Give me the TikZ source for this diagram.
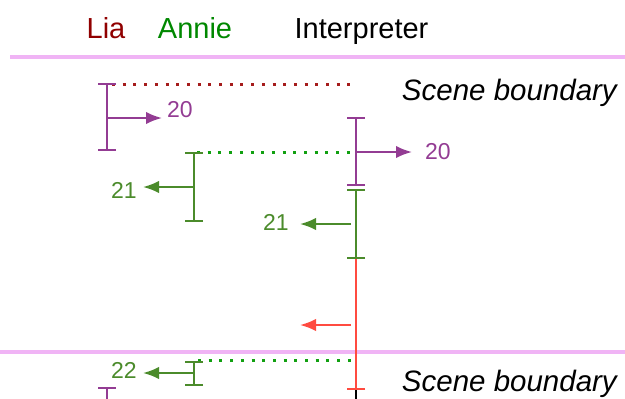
\documentclass[tikz,border=0pt]{standalone}
\usepackage{fontspec}
\setmainfont{Liberation Sans}
\usetikzlibrary{arrows.meta}
\definecolor{purp}{HTML}{933C93}
\definecolor{annieline}{HTML}{4B8B2B}
\definecolor{syncgreen}{HTML}{11A011}
\definecolor{liared}{HTML}{900000}
\definecolor{anniegreen}{HTML}{008800}
\definecolor{syncred}{HTML}{A51C1C}
\definecolor{interpred}{HTML}{FF4B40}
\definecolor{scenepink}{HTML}{F0B4F5}
\begin{document}
\begin{tikzpicture}[x=1pt,y=-1pt,
  lifeline/.style={line width=2.2pt},
  barboth/.style={{Bar[width=18pt,line width=2.2pt]}-{Bar[width=18pt,line width=2.2pt]}},
  barstart/.style={{Bar[width=18pt,line width=2.2pt]}-},
  barend/.style={-{Bar[width=18pt,line width=2.2pt]}},
  msg/.style={line width=2.2pt,-{Latex[length=16pt,width=12.5pt]}},
  tag/.style={font=\fontsize{23}{26}\selectfont, inner sep=0pt, anchor=base west},
  hdr/.style={font=\fontsize{29}{34}\selectfont, inner sep=0pt, anchor=base},
  scenelabel/.style={font=\fontsize{29.5}{34}\selectfont\itshape, inner sep=0pt, anchor=base east},
  boundary/.style={line width=3.5pt, draw=scenepink},
  sync/.style={line width=3pt, dash pattern=on 3pt off 7.7pt},
]
\useasboundingbox (0,0) rectangle (625,399);

% column headings
\node[hdr, text=liared] (lia) at (106,38) {Lia};
\node[hdr, text=anniegreen] (annie) at (195,38) {Annie};
\node[hdr, text=black] (interp) at (361.5,38) {Interpreter};

% scene boundaries
\coordinate (sb1l) at (10,57);  \coordinate (sb1r) at (625,57);
\coordinate (sb2l) at (0,352);  \coordinate (sb2r) at (625,352);
\draw[boundary] (sb1l) -- (sb1r);
\draw[boundary] (sb2l) -- (sb2r);
\node[scenelabel] (scene1) at (617,100) {Scene boundary};
\node[scenelabel] (scene2) at (617,391) {Scene boundary};

% synchronisation lines
\coordinate (s1a) at (112,84);  \coordinate (s1b) at (350,84);
\coordinate (s2a) at (197,152); \coordinate (s2b) at (350,152);
\coordinate (s3a) at (198,360); \coordinate (s3b) at (352,360);
\draw[sync, syncred] (s1a) -- (s1b);
\draw[sync, syncgreen] (s2a) -- (s2b);
\draw[sync, syncgreen] (s3a) -- (s3b);

% Lia
\coordinate (lia1t) at (107,83);  \coordinate (lia1b) at (107,151);
\coordinate (lia1m) at (107,118); \coordinate (lia1e) at (162,118);
\draw[lifeline, barboth, purp] (lia1t) -- (lia1b);
\draw[msg, purp] (lia1m) -- (lia1e);
\node[tag, text=purp] (n20a) at (167,117) {20};
\coordinate (lia2t) at (107,387); \coordinate (lia2b) at (107,402);
\draw[lifeline, barstart, purp] (lia2t) -- (lia2b);

% Annie
\coordinate (an1t) at (194,152);  \coordinate (an1b) at (194,222);
\coordinate (an1m) at (194,187);  \coordinate (an1e) at (143,187);
\draw[lifeline, barboth, annieline] (an1t) -- (an1b);
\draw[msg, annieline] (an1m) -- (an1e);
\node[tag, text=annieline] (n21a) at (111,198) {21};
\coordinate (an2t) at (194,361);  \coordinate (an2b) at (194,386);
\coordinate (an2m) at (194,373);  \coordinate (an2e) at (143,373);
\draw[lifeline, barboth, annieline] (an2t) -- (an2b);
\draw[msg, annieline] (an2m) -- (an2e);
\node[tag, text=annieline] (n22) at (111,378) {22};

% Interpreter
\coordinate (ip1t) at (356,117);  \coordinate (ip1b) at (356,186);
\coordinate (ip1m) at (357,152);  \coordinate (ip1e) at (412,152);
\draw[lifeline, barboth, purp] (ip1t) -- (ip1b);
\draw[msg, purp] (ip1m) -- (ip1e);
\node[tag, text=purp] (n20b) at (425,159) {20};
\coordinate (ip2t) at (356,189);  \coordinate (ip2b) at (356,259);
\coordinate (ip2m) at (351,224);  \coordinate (ip2e) at (300,224);
\draw[lifeline, barboth, annieline] (ip2t) -- (ip2b);
\draw[msg, annieline] (ip2m) -- (ip2e);
\node[tag, text=annieline] (n21b) at (263,230) {21};
\coordinate (ip3b) at (356,390);
\coordinate (ip3m) at (351,325);  \coordinate (ip3e) at (300,325);
\draw[lifeline, barend, interpred] (ip2b) -- (ip3b);
\draw[msg, interpred] (ip3m) -- (ip3e);
\coordinate (ip4b) at (356,402);
\draw[lifeline, black] (ip3b) -- (ip4b);
\end{tikzpicture}
\end{document}
